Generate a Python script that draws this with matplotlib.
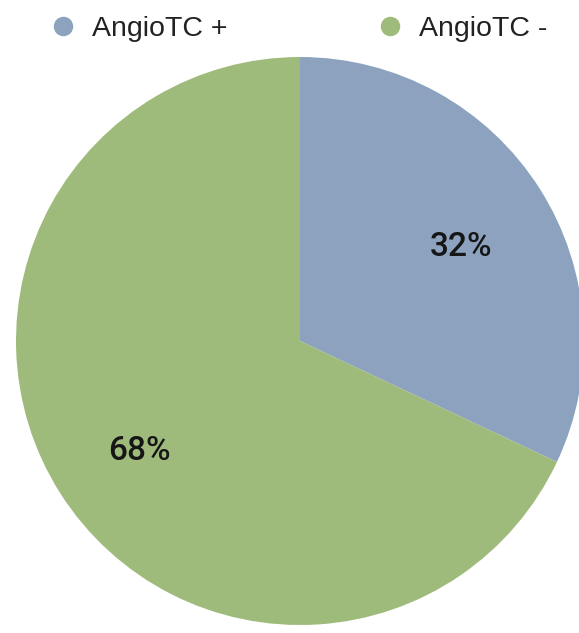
import matplotlib.pyplot as plt

# Data
labels = ['AngioTC +', 'AngioTC -']
shares = [32, 68]
colors = ['#8ca2bf', '#9fbb7b']

plt.rcParams['font.family'] = ['Liberation Sans', 'DejaVu Sans']

fig = plt.figure(figsize=(5.79, 6.33), dpi=100)
ax = fig.add_axes([0, 0, 1, 1])

# Pie, clockwise from 12 o'clock; axes in pixel units
wedges, texts, autotexts = ax.pie(
    shares, colors=colors, startangle=90, counterclock=False,
    center=(300, 292), radius=284, autopct='%d%%', pctdistance=0.67,
    textprops={'fontsize': 24, 'color': '#161616', 'family': 'Roboto',
               'fontweight': 'medium'},
    wedgeprops={'linewidth': 0},
)
for t in autotexts:
    x, y = t.get_position()
    t.set_position((x, y - 8))

ax.set_xlim(0, 579)
ax.set_ylim(0, 633)
ax.set_aspect('equal')
ax.axis('off')

# Legend row at the top
legend_x = [63, 390]
for lx, lab, c in zip(legend_x, labels, colors):
    ax.plot(lx, 607, marker='o', markersize=13, color=c, linestyle='none',
            clip_on=False)
    ax.text(lx + 29, 597, lab, fontsize=20.5, color='#222222',
            ha='left', va='baseline')

plt.savefig('out.png', dpi=100)
plt.close(fig)
